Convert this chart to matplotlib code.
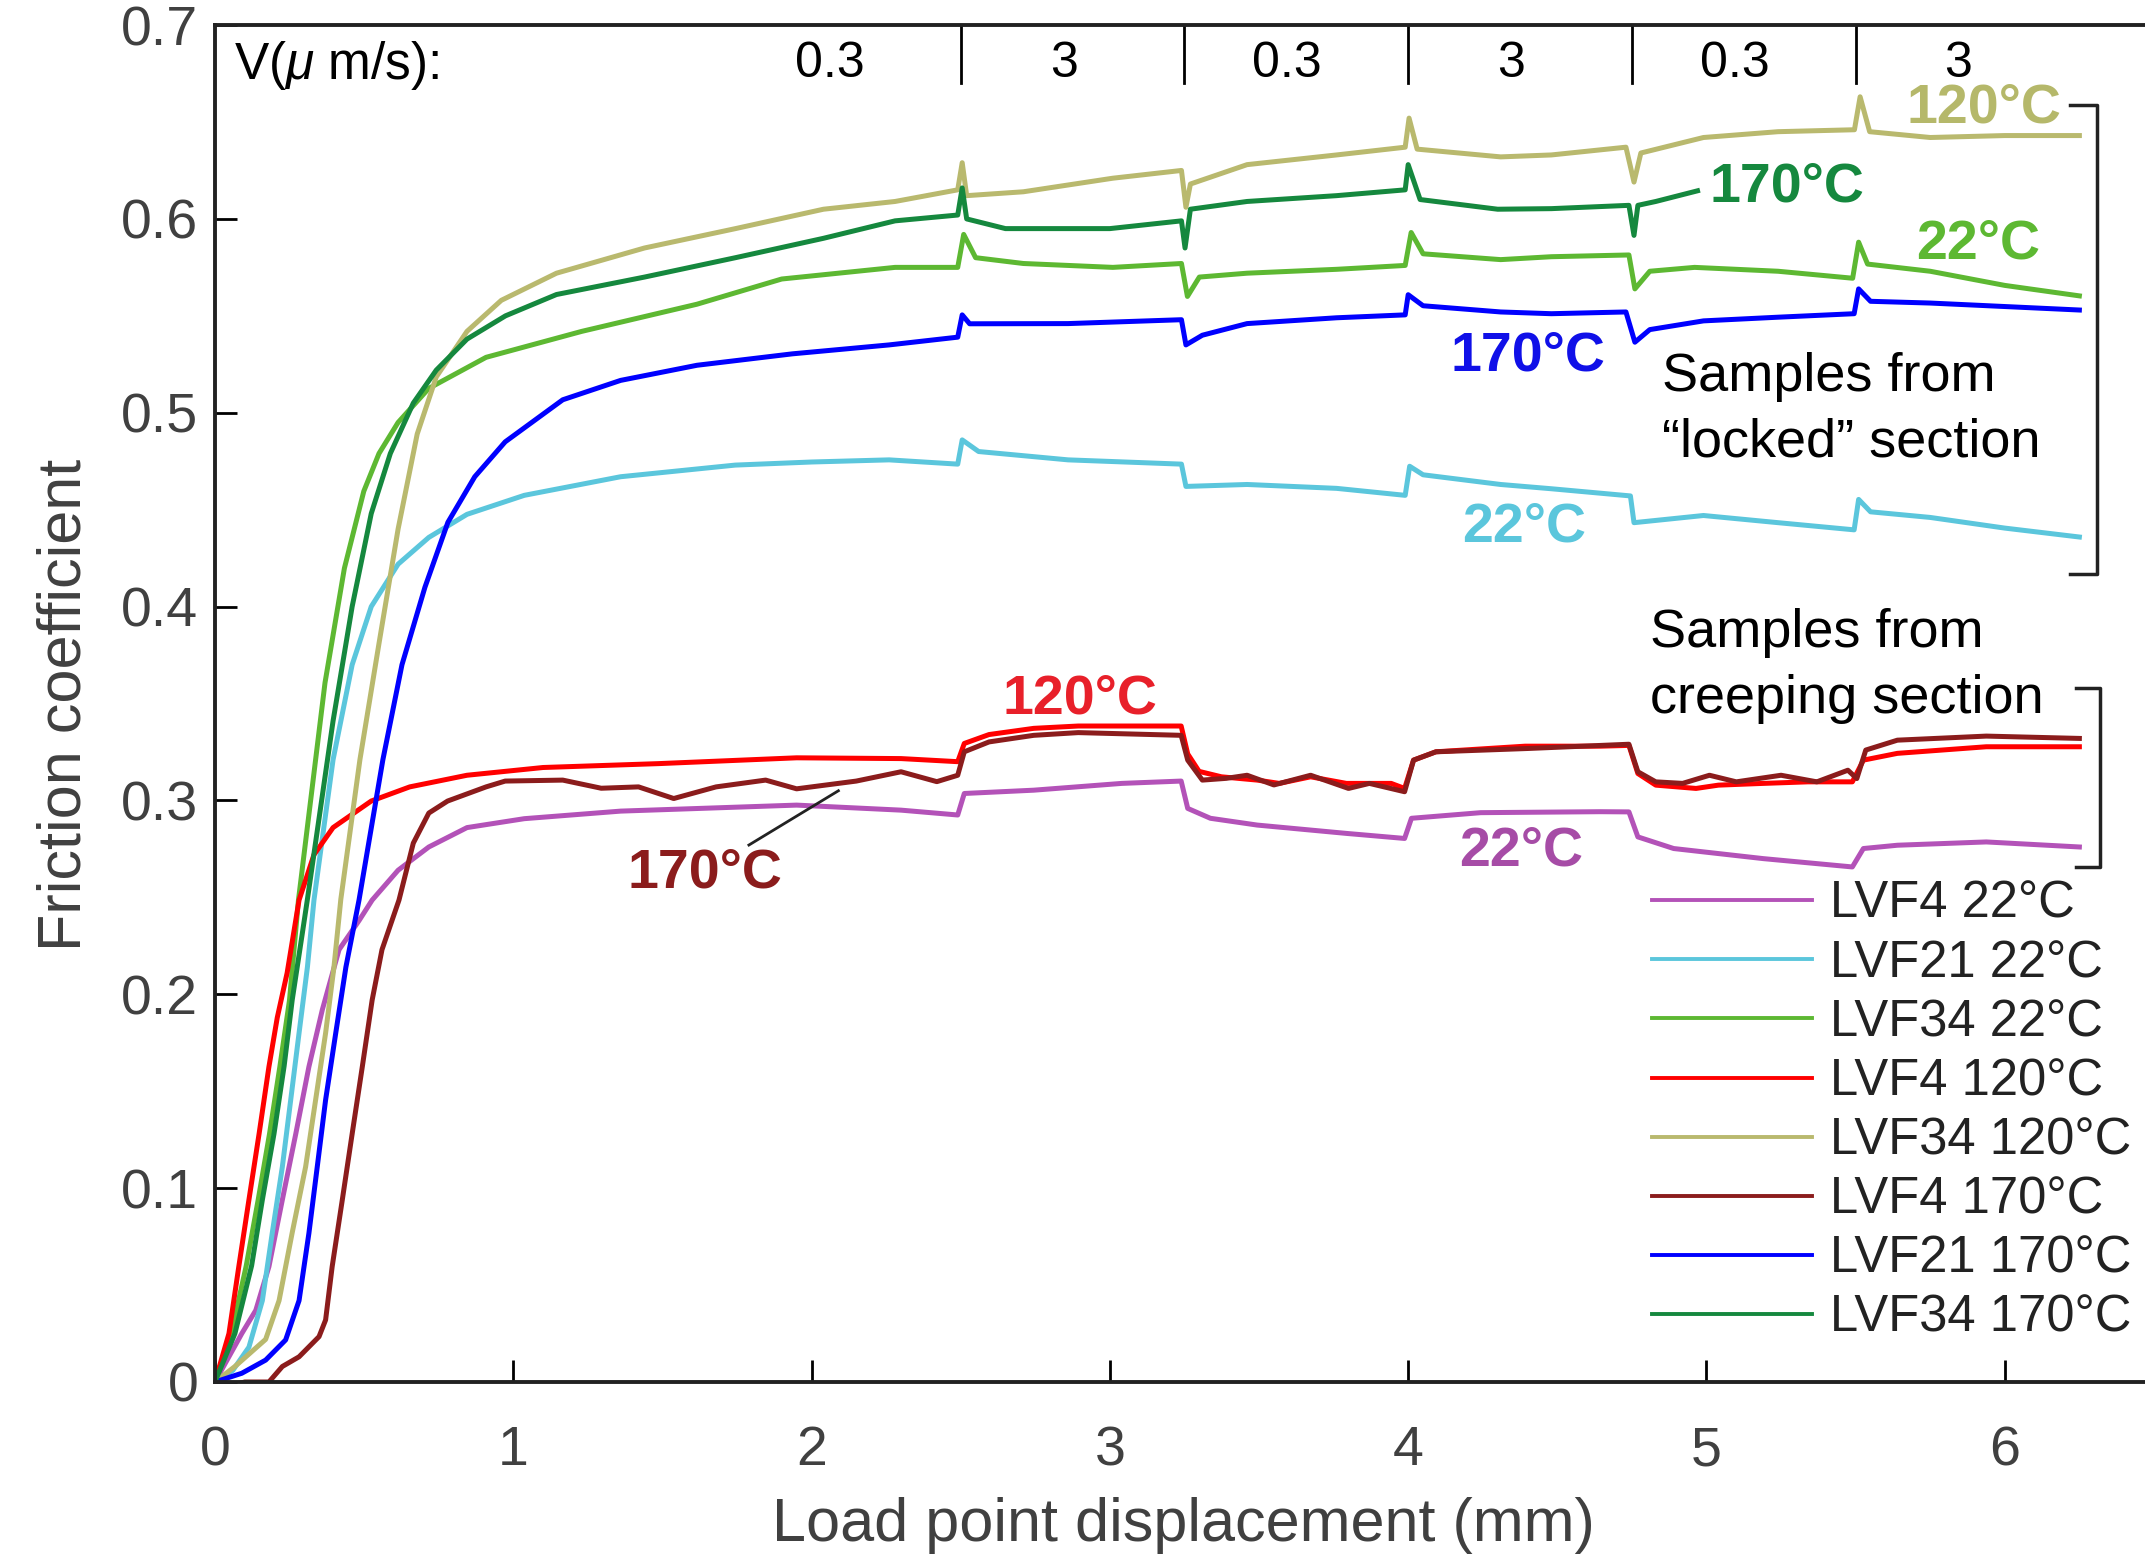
import matplotlib
matplotlib.use('Agg')
import matplotlib.pyplot as plt

plt.rcParams['font.family'] = ['Liberation Sans', 'DejaVu Sans']
plt.rcParams['mathtext.fontset'] = 'custom'
plt.rcParams['mathtext.rm'] = 'Liberation Sans'
plt.rcParams['mathtext.it'] = 'Liberation Sans:italic'

# Friction coefficient vs load point displacement.
x_lvf4_22 = [0, 0.09, 0.137, 0.181, 0.226, 0.271, 0.315, 0.36, 0.416, 0.483,
             0.527, 0.614, 0.717, 0.845, 1.037, 1.36, 1.95, 2.30, 2.49, 2.512,
             2.745, 3.04, 3.239, 3.261, 3.337, 3.494, 3.793, 3.988, 4.011, 4.243,
             4.644, 4.74, 4.77, 4.89, 5.19, 5.489, 5.526, 5.64, 5.938, 6.25]
y_lvf4_22 = [0, 0.025, 0.037, 0.0595, 0.094, 0.128, 0.1626, 0.192, 0.223, 0.238,
             0.2486, 0.264, 0.276, 0.286, 0.2906, 0.2945, 0.2976, 0.295, 0.2925, 0.3036,
             0.3053, 0.3088, 0.31, 0.2959, 0.2908, 0.2873, 0.283, 0.2804, 0.2908, 0.2937,
             0.2942, 0.2941, 0.2812, 0.2752, 0.27, 0.2657, 0.2752, 0.2769, 0.2786, 0.276]

x_lvf21_22 = [0, 0.06, 0.114, 0.159, 0.192, 0.226, 0.254, 0.282, 0.31, 0.332,
              0.396, 0.46, 0.524, 0.614, 0.717, 0.845, 1.037, 1.36, 1.744, 2.0,
              2.26, 2.49, 2.505, 2.56, 2.86, 3.24, 3.255, 3.46, 3.76, 3.99,
              4.005, 4.05, 4.31, 4.48, 4.745, 4.757, 4.99, 5.24, 5.495, 5.51,
              5.55, 5.75, 6.0, 6.25]
y_lvf21_22 = [0, 0.006, 0.018, 0.042, 0.0767, 0.111, 0.1455, 0.18, 0.214, 0.2486,
              0.321, 0.370, 0.40, 0.4219, 0.4357, 0.4476, 0.4574, 0.467, 0.473, 0.4746,
              0.4757, 0.4735, 0.486, 0.480, 0.4757, 0.4735, 0.462, 0.463, 0.461, 0.4574,
              0.4724, 0.468, 0.463, 0.4608, 0.4571, 0.4433, 0.447, 0.4433, 0.4396, 0.4553,
              0.4489, 0.446, 0.4405, 0.4359]

x_lvf34_22 = [0, 0.055, 0.105, 0.145, 0.183, 0.218, 0.25, 0.28, 0.369, 0.434,
              0.499, 0.55, 0.614, 0.717, 0.909, 1.23, 1.616, 1.90, 2.28, 2.49,
              2.51, 2.55, 2.71, 3.01, 3.24, 3.26, 3.30, 3.46, 3.76, 3.99,
              4.01, 4.05, 4.31, 4.48, 4.74, 4.76, 4.81, 4.96, 5.24, 5.49,
              5.51, 5.54, 5.75, 6.0, 6.25]
y_lvf34_22 = [0, 0.025, 0.06, 0.094, 0.128, 0.163, 0.197, 0.2486, 0.3607, 0.4198,
              0.4595, 0.479, 0.495, 0.5126, 0.5286, 0.542, 0.556, 0.569, 0.575, 0.575,
              0.592, 0.580, 0.577, 0.575, 0.577, 0.560, 0.570, 0.572, 0.574, 0.576,
              0.593, 0.582, 0.579, 0.5805, 0.5814, 0.5639, 0.573, 0.575, 0.573, 0.5694,
              0.588, 0.5767, 0.573, 0.5657, 0.5603]

x_lvf4_120 = [0, 0.047, 0.08, 0.114, 0.148, 0.181, 0.209, 0.242, 0.282, 0.332,
              0.396, 0.524, 0.653, 0.845, 1.10, 1.487, 1.95, 2.30, 2.49, 2.512,
              2.595, 2.745, 2.894, 3.239, 3.261, 3.299, 3.374, 3.494, 3.568, 3.673,
              3.793, 3.943, 3.988, 4.018, 4.093, 4.392, 4.644, 4.74, 4.77, 4.83,
              4.965, 5.04, 5.19, 5.34, 5.489, 5.526, 5.64, 5.938, 6.25]
y_lvf4_120 = [0, 0.025, 0.0595, 0.094, 0.128, 0.1626, 0.188, 0.211, 0.2486, 0.272,
              0.286, 0.2997, 0.307, 0.313, 0.317, 0.319, 0.322, 0.3216, 0.320, 0.3294,
              0.334, 0.3372, 0.3384, 0.3384, 0.324, 0.315, 0.3122, 0.3105, 0.3088, 0.3122,
              0.3088, 0.3088, 0.3062, 0.3208, 0.3251, 0.328, 0.328, 0.3284, 0.3139, 0.3079,
              0.3062, 0.3079, 0.3088, 0.3096, 0.3096, 0.3208, 0.3243, 0.3277, 0.3277]

x_lvf34_120 = [0, 0.067, 0.17, 0.215, 0.259, 0.304, 0.338, 0.371, 0.399, 0.422,
               0.486, 0.55, 0.614, 0.678, 0.742, 0.845, 0.96, 1.145, 1.44, 1.745,
               2.04, 2.28, 2.49, 2.505, 2.52, 2.71, 3.01, 3.24, 3.255, 3.27,
               3.46, 3.76, 3.99, 4.003, 4.03, 4.31, 4.48, 4.73, 4.757, 4.78,
               4.99, 5.24, 5.496, 5.515, 5.547, 5.75, 6.0, 6.25]
y_lvf34_120 = [0, 0.008, 0.022, 0.042, 0.077, 0.111, 0.146, 0.18, 0.214, 0.249,
               0.321, 0.381, 0.44, 0.489, 0.5185, 0.542, 0.558, 0.572, 0.585, 0.595,
               0.605, 0.609, 0.615, 0.629, 0.612, 0.614, 0.621, 0.625, 0.606, 0.618,
               0.628, 0.633, 0.637, 0.652, 0.636, 0.632, 0.633, 0.637, 0.619, 0.634,
               0.642, 0.645, 0.646, 0.663, 0.645, 0.642, 0.643, 0.643]

x_lvf4_170 = [0, 0.05, 0.1, 0.181, 0.226, 0.282, 0.349, 0.371, 0.393, 0.427,
              0.46, 0.494, 0.527, 0.56, 0.617, 0.665, 0.717, 0.78, 0.909, 0.973,
              1.166, 1.295, 1.42, 1.538, 1.68, 1.846, 1.95, 2.15, 2.3, 2.42,
              2.49, 2.512, 2.595, 2.745, 2.894, 3.239, 3.261, 3.31, 3.39, 3.46,
              3.55, 3.673, 3.80, 3.87, 3.988, 4.018, 4.093, 4.4, 4.74, 4.77,
              4.83, 4.92, 5.01, 5.10, 5.25, 5.37, 5.474, 5.504, 5.534, 5.64,
              5.938, 6.25]
y_lvf4_170 = [0, -0.002, 0, 0, 0.008, 0.013, 0.0234, 0.032, 0.0595, 0.094,
              0.128, 0.1626, 0.197, 0.223, 0.2486, 0.278, 0.2935, 0.2997, 0.307, 0.31,
              0.3105, 0.3063, 0.307, 0.301, 0.307, 0.3105, 0.306, 0.31, 0.3148, 0.3097,
              0.313, 0.3251, 0.3302, 0.3336, 0.335, 0.3336, 0.3208, 0.3105, 0.3114, 0.313,
              0.308, 0.313, 0.3062, 0.3088, 0.3045, 0.3208, 0.3251, 0.3268, 0.329, 0.3148,
              0.3096, 0.3088, 0.313, 0.3096, 0.313, 0.3096, 0.3156, 0.3113, 0.326, 0.3311,
              0.3332, 0.332]

x_lvf21_170 = [0, 0.09, 0.17, 0.237, 0.282, 0.315, 0.343, 0.371, 0.405, 0.439,
               0.483, 0.563, 0.627, 0.704, 0.781, 0.871, 0.973, 1.166, 1.36, 1.616,
               1.936, 2.26, 2.49, 2.505, 2.53, 2.86, 3.24, 3.255, 3.31, 3.46,
               3.76, 3.99, 4.0, 4.05, 4.31, 4.48, 4.73, 4.76, 4.81, 4.99,
               5.24, 5.495, 5.51, 5.55, 5.75, 6.0, 6.25]
y_lvf21_170 = [0, 0.0045, 0.0113, 0.0217, 0.042, 0.0767, 0.111, 0.1455, 0.18, 0.214,
               0.2486, 0.321, 0.37, 0.41, 0.4435, 0.467, 0.485, 0.5067, 0.5167, 0.5245,
               0.5304, 0.535, 0.539, 0.5505, 0.5459, 0.546, 0.548, 0.535, 0.540, 0.546,
               0.549, 0.5505, 0.5609, 0.5552, 0.552, 0.5511, 0.552, 0.5364, 0.5429, 0.5474,
               0.5493, 0.5511, 0.5639, 0.5575, 0.5566, 0.5548, 0.553]

x_lvf34_170 = [0, 0.067, 0.123, 0.159, 0.198, 0.232, 0.259, 0.293, 0.31, 0.396,
               0.46, 0.524, 0.588, 0.665, 0.742, 0.845, 0.974, 1.145, 1.44, 1.745,
               2.04, 2.28, 2.49, 2.505, 2.52, 2.65, 3.0, 3.24, 3.252, 3.27,
               3.46, 3.76, 3.99, 4.0, 4.04, 4.3, 4.48, 4.74, 4.757, 4.77,
               4.83, 4.97]
y_lvf34_170 = [0, 0.025, 0.06, 0.094, 0.128, 0.163, 0.197, 0.2315, 0.249, 0.341,
               0.40, 0.448, 0.479, 0.505, 0.522, 0.538, 0.55, 0.561, 0.570, 0.580,
               0.590, 0.599, 0.602, 0.616, 0.600, 0.595, 0.595, 0.599, 0.585, 0.605,
               0.609, 0.612, 0.615, 0.628, 0.610, 0.605, 0.6053, 0.607, 0.5915, 0.607,
               0.609, 0.6145]

series_labels = ['LVF4 22°C', 'LVF21 22°C', 'LVF34 22°C', 'LVF4 120°C',
                 'LVF34 120°C', 'LVF4 170°C', 'LVF21 170°C', 'LVF34 170°C']
series_colors = ['#b352b8', '#5bc6dc', '#5db832', '#ff0000',
                 '#b9b96e', '#8b1c1c', '#0000ff', '#15883e']

# velocity steps (um/s) along the top
vel_edges = [2.5, 3.25, 4.0, 4.75, 5.5]
vel_labels = ['0.3', '3', '0.3', '3', '0.3', '3']

series = [(x_lvf4_22, y_lvf4_22), (x_lvf21_22, y_lvf21_22), (x_lvf34_22, y_lvf34_22),
          (x_lvf4_120, y_lvf4_120), (x_lvf34_120, y_lvf34_120), (x_lvf4_170, y_lvf4_170),
          (x_lvf21_170, y_lvf21_170), (x_lvf34_170, y_lvf34_170)]

fig = plt.figure(figsize=(21.45, 15.57), dpi=100)
ax = fig.add_axes([0.1002, 0.1124, 0.8998, 0.8715])

for (xs, ys), c, lab in zip(series, series_colors, series_labels):
    ax.plot(xs, ys, color=c, lw=3.6, label=lab)

ax.set_xlim(0, 6.47)
ax.set_ylim(0, 0.7)
ax.set_xticks(range(7))
ax.set_yticks([i / 10 for i in range(8)])
ax.set_yticklabels(['0'] + ['%.1f' % (i / 10) for i in range(1, 8)])

ax.spines['right'].set_visible(False)
for s in ['left', 'bottom', 'top']:
    ax.spines[s].set_linewidth(2.8)
    ax.spines[s].set_color('#222222')
ax.tick_params(direction='in', length=16, width=2, labelsize=40, labelcolor='#404040',
               top=False, right=False)
ax.tick_params(axis='x', pad=31)
ax.tick_params(axis='y', pad=12)

ax.set_xlabel('Load point displacement (mm)', fontsize=44, color='#404040')
ax.set_ylabel('Friction coefficient', fontsize=44, color='#404040')
ax.xaxis.set_label_coords(0.5016, -0.085)
ax.yaxis.set_label_coords(-0.063, 0.4993)

# velocity bar
for e in vel_edges:
    ax.plot([e, e], [0.670, 0.7], color='black', lw=2)
ax.text(0.065, 0.679, 'V($\\mu$ m/s):', fontsize=37, va='center', ha='left')
mids = [2.06] + [(a + b) / 2 - 0.03 for a, b in zip(vel_edges, vel_edges[1:] + [6.25])]
for m, lab in zip(mids, vel_labels):
    ax.text(m, 0.680, lab, fontsize=36, va='center', ha='center')

# curve labels
lab_kw = dict(fontsize=40, fontweight='bold', ha='center', va='center')
ax.text(5.93, 0.657, '120°C', color='#b5b86a', **lab_kw)
ax.text(5.27, 0.616, '170°C', color='#15883e', **lab_kw)
ax.text(5.91, 0.587, '22°C', color='#5db832', **lab_kw)
ax.text(4.40, 0.529, '170°C', color='#1010e8', **lab_kw)
ax.text(4.39, 0.441, '22°C', color='#5bc6dc', **lab_kw)
ax.text(2.90, 0.352, '120°C', color='#e8202a', **lab_kw)
ax.text(1.644, 0.2624, '170°C', color='#8b1c1c', **lab_kw)
ax.text(4.38, 0.2737, '22°C', color='#a64ca6', **lab_kw)
ax.plot([1.79, 2.09], [0.277, 0.305], color='#222222', lw=2)

# group brackets
ax.plot([6.22, 6.31, 6.31, 6.22], [0.659, 0.659, 0.4167, 0.4167], color='#222222', lw=2.5, clip_on=False)
ax.plot([6.24, 6.32, 6.32, 6.24], [0.3578, 0.3578, 0.2658, 0.2658], color='#222222', lw=2.5, clip_on=False)
ax.text(4.85, 0.5016, 'Samples from\n\u201clocked\u201d section', fontsize=39, va='center', ha='left',
        linespacing=1.4)
ax.text(4.81, 0.3693, 'Samples from\ncreeping section', fontsize=39, va='center', ha='left',
        linespacing=1.4)

leg = ax.legend(loc='upper left', bbox_to_anchor=(0.7447, 0.370), frameon=False, fontsize=36.5,
                handlelength=3.16, handletextpad=0.35, labelspacing=0.20, borderpad=0,
                borderaxespad=0)
for t in leg.get_texts():
    t.set_color('#222222')
for h in leg.get_lines():
    h.set_linewidth(2.8)

fig.savefig('out.png', dpi=100)
